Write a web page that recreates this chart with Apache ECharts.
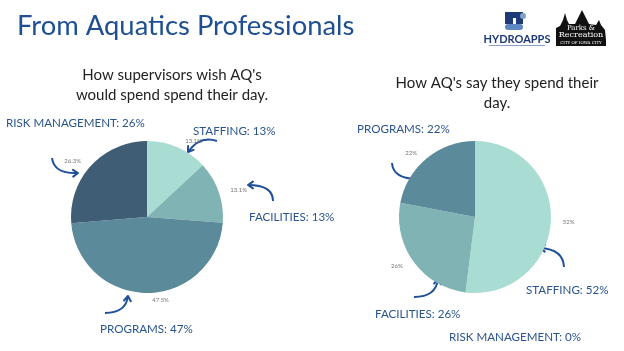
<!DOCTYPE html>
<html><head><meta charset="utf-8">
<script src="https://cdn.jsdelivr.net/npm/echarts@6/dist/echarts.min.js"></script>
<style>html,body{margin:0;padding:0;background:#fff}#c{width:624px;height:351px}</style>
</head><body><div id="c"></div>
<script>
// ---- data ----
const categories = ['STAFFING', 'FACILITIES', 'PROGRAMS', 'RISK MANAGEMENT'];
const supervisorsWish = [13.1, 13.1, 47.5, 26.3];
const aqsSay = [52, 26, 22, 0];
const supervisorsLabels = ['STAFFING: 13%', 'FACILITIES: 13%', 'PROGRAMS: 47%', 'RISK MANAGEMENT: 26%'];
const aqsLabels = ['STAFFING: 52%', 'FACILITIES: 26%', 'PROGRAMS: 22%', 'RISK MANAGEMENT: 0%'];
const titleText = 'From Aquatics Professionals';
const leftSubtitle = "How supervisors wish AQ's\nwould spend spend their day.";
const rightSubtitle = "How AQ's say they spend their\nday.";

const sliceColors = ['#a9dcd2', '#80b4b4', '#5b8a9a', '#3f5e75'];
const navy = '#2a5490';
const arrowColor = '#1f4f98';
const FONT = 'Lato';

const chart = echarts.init(document.getElementById('c'), null, {renderer: 'canvas'});

function pieData(vals) {
  return categories.map((c, i) => ({name: c, value: vals[i], itemStyle: {color: sliceColors[i]}}));
}

function pieSeries(vals, cx) {
  return {
    type: 'pie', center: [cx, 217], radius: 76, startAngle: 90, clockwise: true,
    silent: true, animation: false,
    data: pieData(vals),
    label: {
      show: true, position: 'outside', color: '#777', fontSize: 6, fontFamily: FONT,
      formatter: p => (p.value === 0 ? '' : p.value + '%')
    },
    labelLine: {show: false, length: 7, length2: 0},
    emphasis: {disabled: true}
  };
}

function arrow(x1, y1, cx, cy, x2, y2) {
  const ang = Math.atan2(y2 - cy, x2 - cx);
  const L = 6, a = 0.6;
  const p1 = [x2 - L * Math.cos(ang - a), y2 - L * Math.sin(ang - a)];
  const p2 = [x2 - L * Math.cos(ang + a), y2 - L * Math.sin(ang + a)];
  return [
    {type: 'bezierCurve', shape: {x1: x1, y1: y1, cpx1: cx, cpy1: cy, x2: x2, y2: y2},
     style: {stroke: arrowColor, lineWidth: 2, fill: null}},
    {type: 'polyline', shape: {points: [p1, [x2, y2], p2]},
     style: {stroke: arrowColor, lineWidth: 2, fill: null, lineCap: 'round', lineJoin: 'round'}}
  ];
}

function annot(text, x, y, align) {
  return {type: 'text', x: x, y: y,
    style: {text: text, fill: navy, font: '11.6px ' + FONT, textAlign: align || 'left', textVerticalAlign: 'middle'}};
}

const graphics = [
  {type: 'text', x: 17, y: 26, style: {text: titleText, fill: '#1f4f93', font: '27.4px ' + FONT, textVerticalAlign: 'middle'}},
  {type: 'text', x: 172, y: 85, style: {text: leftSubtitle, fill: '#222', font: '15px ' + FONT, textAlign: 'center', textVerticalAlign: 'middle', lineHeight: 20}},
  {type: 'text', x: 497, y: 93, style: {text: rightSubtitle, fill: '#222', font: '15px ' + FONT, textAlign: 'center', textVerticalAlign: 'middle', lineHeight: 20}},
  // left annotations
  annot(supervisorsLabels[3], 6, 123),
  annot(supervisorsLabels[0], 193, 131),
  annot(supervisorsLabels[1], 249, 217),
  annot(supervisorsLabels[2], 100, 329),
  // right annotations
  annot(aqsLabels[2], 357, 129),
  annot(aqsLabels[0], 526, 290),
  annot(aqsLabels[1], 375, 314),
  annot(aqsLabels[3], 449, 337),
  // arrows
  ...arrow(52, 158, 54, 174, 78, 173),
  ...arrow(217, 141, 200, 135, 188, 152),
  ...arrow(273, 201, 273, 185, 248, 185),
  ...arrow(105, 313, 126, 313, 128, 296),
  ...arrow(392, 163, 393, 179, 418, 179),
  ...arrow(564, 267, 563, 249, 540, 248),
  ...arrow(414, 297, 436, 297, 438, 279),
  // HYDROAPPS logo (approximation)
  {type: 'rect', shape: {x: 505, y: 12, width: 8, height: 12}, style: {fill: '#1e3a78'}},
  {type: 'rect', shape: {x: 505, y: 12, width: 18, height: 6}, style: {fill: '#1e3a78'}},
  {type: 'rect', shape: {x: 516, y: 12, width: 7, height: 12}, style: {fill: '#1e3a78'}},
  {type: 'circle', shape: {cx: 523, cy: 16, r: 3}, style: {fill: '#7fa0c8'}},
  {type: 'rect', shape: {x: 505, y: 24, width: 18, height: 6, r: 3}, style: {fill: '#5d86c2'}},
  {type: 'text', x: 517, y: 39, style: {text: 'HYDROAPPS', fill: '#1e3a78', font: 'bold 11px ' + FONT, textAlign: 'center', textVerticalAlign: 'middle'}},
  {type: 'rect', shape: {x: 489, y: 45, width: 56, height: 1}, style: {fill: '#8aa0c8'}},
  // Parks & Recreation logo (approximation)
  {type: 'polygon', shape: {points: [[556, 40], [556, 28], [560, 26], [563, 20], [565, 13], [567, 20], [569, 24], [575, 24], [578, 18], [582, 10], [586, 18], [589, 24], [596, 25], [599, 20], [601, 25], [605, 30], [606, 40]]}, style: {fill: '#111'}},
  {type: 'text', x: 581, y: 28, style: {text: 'Parks &', fill: '#fff', font: '7px "DejaVu Serif"', textAlign: 'center', textVerticalAlign: 'middle'}},
  {type: 'text', x: 581, y: 35, style: {text: 'Recreation', fill: '#fff', font: '8px "DejaVu Serif"', textAlign: 'center', textVerticalAlign: 'middle'}},
  {type: 'rect', shape: {x: 556, y: 40, width: 50, height: 6}, style: {fill: '#111'}},
  {type: 'text', x: 581, y: 43, style: {text: 'CITY OF IOWA CITY', fill: '#fff', font: '4px "DejaVu Serif"', textAlign: 'center', textVerticalAlign: 'middle'}}
];

chart.setOption({
  animation: false,
  backgroundColor: '#ffffff',
  series: [pieSeries(supervisorsWish, 147), pieSeries(aqsSay, 475)],
  graphic: graphics
});
</script></body></html>
